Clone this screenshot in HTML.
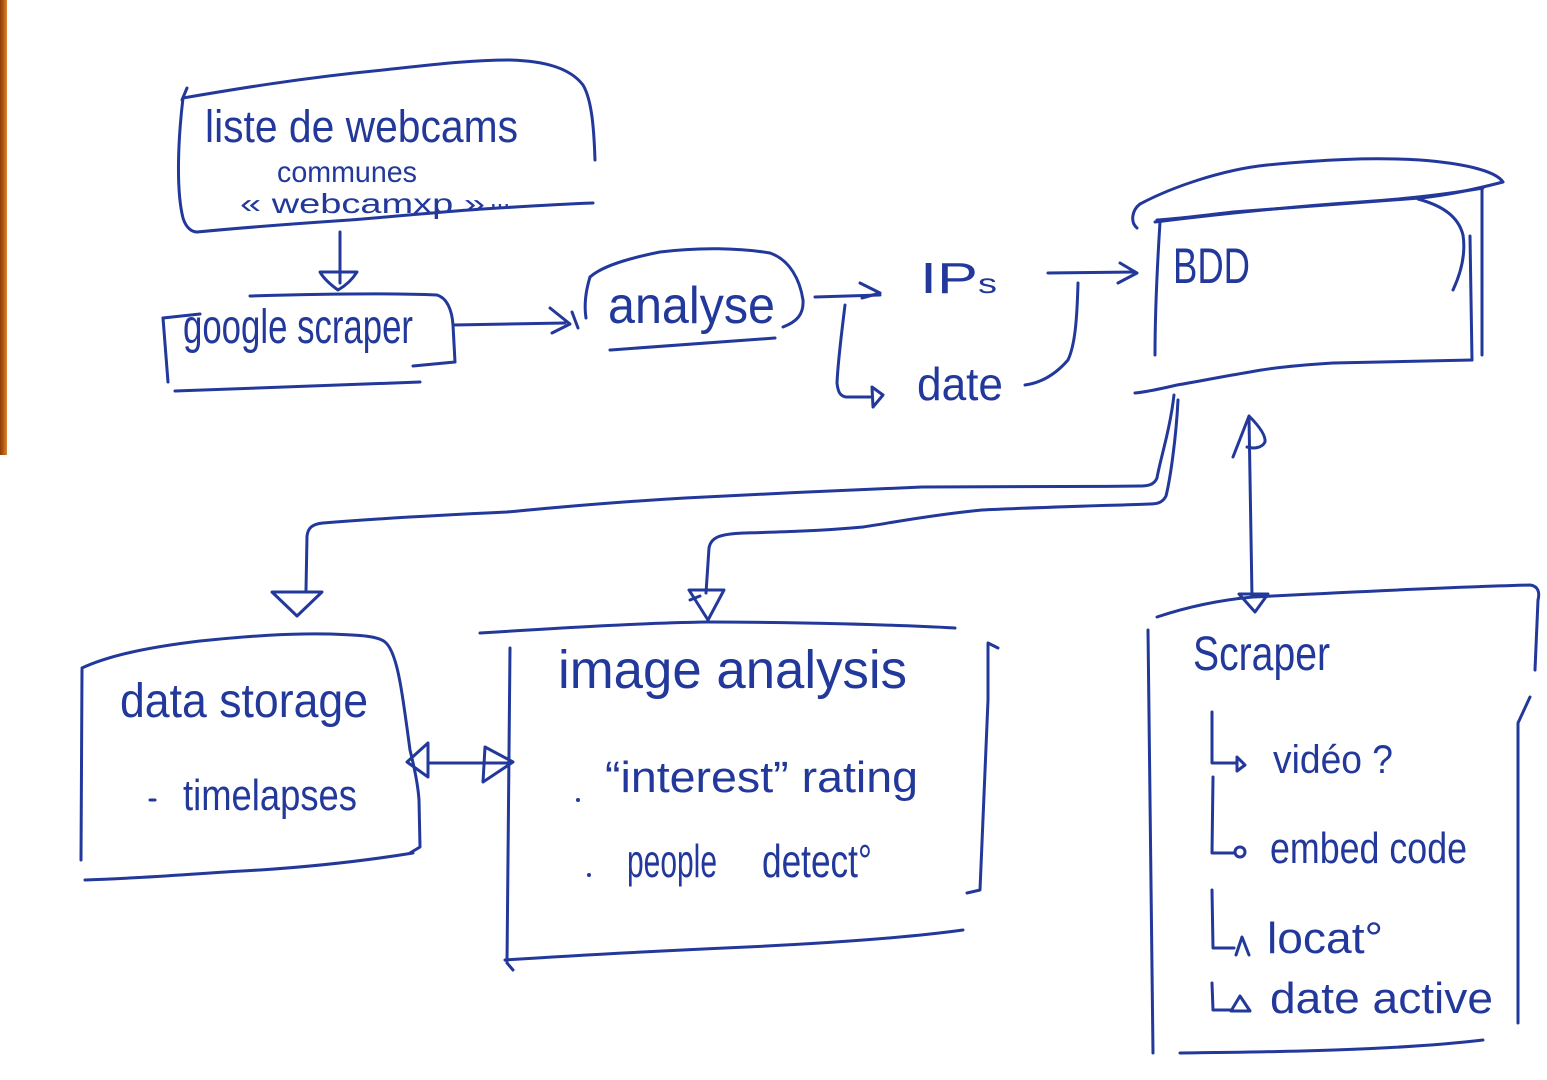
<!DOCTYPE html>
<html>
<head>
<meta charset="utf-8">
<style>
  html,body{margin:0;padding:0;background:#ffffff;}
  body{width:1547px;height:1080px;overflow:hidden;position:relative;}
  svg{position:absolute;left:0;top:0;}
  .s{fill:none;stroke:#22389a;stroke-width:3;stroke-linecap:round;stroke-linejoin:round;}
  .t{fill:#22389a;font-family:"Liberation Sans","DejaVu Sans",sans-serif;}
</style>
</head>
<body>
<svg width="1547" height="1080" viewBox="0 0 1547 1080" xmlns="http://www.w3.org/2000/svg">
  <defs>
    <linearGradient id="wood" x1="0" x2="1" y1="0" y2="0">
      <stop offset="0" stop-color="#8a3c08"/>
      <stop offset="0.6" stop-color="#c0620f"/>
      <stop offset="1" stop-color="#d98a3a"/>
    </linearGradient>
  </defs>
  <rect x="0" y="0" width="7" height="455" fill="url(#wood)"/>

  <!-- ============ Top box: liste de webcams ============ -->
  <path class="s" d="M187,88 L182,100"/>
  <path class="s" d="M183,98 C178,140 176,190 183,218 C186,228 192,232 197,232"/>
  <path class="s" d="M183,98 C230,90 300,78 383,70 C430,65 470,60 510,60 C545,61 570,68 583,85 C592,100 594,130 595,160"/>
  <path class="s" d="M197,232 C260,226 320,222 350,220 C400,216 450,211 483,209 C530,206 565,204 593,203"/>
  <text class="t" x="205" y="142" font-size="45" textLength="313" lengthAdjust="spacingAndGlyphs">liste de webcams</text>
  <text class="t" x="277" y="182" font-size="30" textLength="140" lengthAdjust="spacingAndGlyphs">communes</text>
  <text class="t" x="240" y="213" font-size="28" textLength="245" lengthAdjust="spacingAndGlyphs">« webcamxp »</text>
  <text class="t" x="490" y="207" font-size="28" textLength="20" lengthAdjust="spacingAndGlyphs">...</text>

  <!-- arrow down -->
  <path class="s" d="M340,232 L340,283"/>
  <path class="s" d="M320,272 L357,272 C352,280 345,286 338,290 C331,285 324,279 320,272 Z" fill="#fff"/>

  <!-- ============ google scraper ============ -->
  <path class="s" d="M163,318 L168,382"/>
  <path class="s" d="M163,318 L200,314"/>
  <path class="s" d="M250,296 C320,294 390,293 437,295 C447,298 452,310 453,325 L455,362 L413,366"/>
  <path class="s" d="M175,391 C250,388 350,385 420,382"/>
  <text class="t" x="183" y="343" font-size="48" textLength="230" lengthAdjust="spacingAndGlyphs">google scraper</text>

  <!-- arrow to analyse -->
  <path class="s" d="M453,325 L565,323"/>
  <path class="s" d="M550,308 L570,324 L552,333"/>
  <path class="s" d="M572,312 L578,328"/>

  <!-- ============ analyse ============ -->
  <path class="s" d="M590,277 C586,290 584,305 586,318"/>
  <path class="s" d="M590,277 C600,268 620,260 660,252 C700,247 740,248 770,253 C790,260 800,280 803,300 C804,315 796,322 783,327"/>
  <path class="s" d="M610,350 C670,346 730,341 775,338"/>
  <text class="t" x="608" y="323" font-size="52" textLength="167" lengthAdjust="spacingAndGlyphs">analyse</text>

  <!-- arrow to IPs -->
  <path class="s" d="M815,297 L880,295"/>
  <path class="s" d="M860,283 L880,293 L862,298"/>
  <!-- branch to date -->
  <path class="s" d="M845,305 C842,330 838,360 837,383 C838,392 840,396 846,397 L870,397"/>
  <path class="s" d="M872,387 L883,395 L873,407 Z"/>

  <text class="t" x="920" y="293" font-size="44" textLength="58" lengthAdjust="spacingAndGlyphs">IP</text>
  <text class="t" x="978" y="293" font-size="28" textLength="19" lengthAdjust="spacingAndGlyphs">s</text>
  <text class="t" x="917" y="400" font-size="46" textLength="86" lengthAdjust="spacingAndGlyphs">date</text>

  <!-- date to BDD -->
  <path class="s" d="M1025,385 C1040,383 1055,375 1068,360 C1075,345 1077,320 1078,283"/>
  <path class="s" d="M1048,273 L1135,272"/>
  <path class="s" d="M1120,263 L1137,273 L1118,283"/>

  <!-- ============ BDD cylinder ============ -->
  <path class="s" d="M1137,228 C1130,222 1132,210 1140,204 C1170,188 1220,170 1267,165 C1320,160 1370,157 1420,160 C1460,163 1495,170 1503,182 C1480,188 1450,195 1420,198 C1360,203 1300,207 1233,212 C1200,216 1175,219 1157,220"/>
  <path class="s" d="M1155,222 C1220,214 1300,206 1360,202 C1420,198 1460,192 1483,188"/>
  <path class="s" d="M1418,199 C1440,205 1458,215 1463,235 C1466,255 1460,275 1453,290"/>
  <path class="s" d="M1482,190 L1482,355"/>
  <path class="s" d="M1470,236 L1472,360"/>
  <path class="s" d="M1160,222 C1157,270 1155,320 1155,355"/>
  <path class="s" d="M1472,360 C1420,361 1370,362 1333,363 C1300,365 1270,368 1250,372 C1220,377 1195,382 1177,385 C1160,389 1145,392 1135,393"/>
  <text class="t" x="1173" y="283" font-size="50" textLength="77" lengthAdjust="spacingAndGlyphs">BDD</text>

  <!-- BDD to data storage (line A) -->
  <path class="s" d="M1174,395 C1170,430 1160,460 1157,478 C1154,485 1148,486 1140,486 C1050,487 950,487 922,487 C850,490 760,494 685,498 C600,503 550,508 507,512 C420,516 360,520 323,523 C312,524 308,528 307,536 L306,590"/>
  <path class="s" d="M272,592 L322,592 L297,616 Z" fill="#fff"/>
  <!-- BDD to image analysis (line B) -->
  <path class="s" d="M1178,400 C1176,440 1170,480 1166,496 C1163,502 1158,504 1150,504 C1090,506 1020,508 982,510 C930,515 890,523 863,527 C820,531 780,532 744,533 C720,534 711,537 709,548 L706,593"/>
  <path class="s" d="M689,590 L724,590 L708,620 Z" fill="#fff"/>
  <path class="s" d="M690,600 L700,596"/>

  <!-- BDD <-> Scraper -->
  <path class="s" d="M1249,417 L1252,597"/>
  <path class="s" d="M1249,416 L1233,457 M1249,416 C1258,425 1266,435 1265,442 C1262,448 1254,449 1247,447"/>
  <path class="s" d="M1239,594 L1268,594 L1255,612 Z" fill="#fff"/>

  <!-- ============ data storage ============ -->
  <path class="s" d="M82,668 C110,655 150,647 200,641 C250,636 290,633 330,634 C360,635 378,636 385,642 C395,650 400,680 403,700 C406,720 408,735 410,750 C415,770 418,785 419,800 L420,847 L410,853"/>
  <path class="s" d="M82,670 L81,860"/>
  <path class="s" d="M85,880 C150,878 200,873 260,870 C320,866 370,860 413,853"/>
  <text class="t" x="120" y="717" font-size="48" textLength="248" lengthAdjust="spacingAndGlyphs">data storage</text>
  <path class="s" d="M150,800 L155,800"/>
  <text class="t" x="183" y="810" font-size="44" textLength="174" lengthAdjust="spacingAndGlyphs">timelapses</text>

  <!-- bidirectional arrow -->
  <path class="s" d="M428,763 L510,763"/>
  <path class="s" d="M407,762 L428,743 L428,777 Z"/>
  <path class="s" d="M485,747 L513,762 L483,782 Z"/>

  <!-- ============ image analysis ============ -->
  <path class="s" d="M480,633 C560,628 640,623 707,622 C800,622 900,625 955,628"/>
  <path class="s" d="M510,648 L507,963 L513,970"/>
  <path class="s" d="M505,960 C580,955 680,950 747,947 C850,942 920,936 963,930"/>
  <path class="s" d="M998,648 L988,643 L988,700 L980,890 L967,893"/>
  <text class="t" x="558" y="688" font-size="54" textLength="349" lengthAdjust="spacingAndGlyphs">image analysis</text>
  <circle cx="578" cy="800" r="2" fill="#22389a"/>
  <text class="t" x="605" y="792" font-size="44" textLength="313" lengthAdjust="spacingAndGlyphs">“interest” rating</text>
  <circle cx="589" cy="875" r="2" fill="#22389a"/>
  <text class="t" x="627" y="877" font-size="46" textLength="90" lengthAdjust="spacingAndGlyphs">people</text>
  <text class="t" x="762" y="877" font-size="46" textLength="110" lengthAdjust="spacingAndGlyphs">detect°</text>

  <!-- ============ Scraper ============ -->
  <path class="s" d="M1157,617 C1190,606 1220,600 1253,597 C1350,592 1450,587 1530,585 C1538,586 1540,592 1538,600 L1535,670"/>
  <path class="s" d="M1530,697 L1518,723 L1518,1023"/>
  <path class="s" d="M1148,630 L1153,1053"/>
  <path class="s" d="M1180,1053 C1280,1052 1400,1050 1483,1040"/>
  <text class="t" x="1193" y="670" font-size="48" textLength="137" lengthAdjust="spacingAndGlyphs">Scraper</text>

  <path class="s" d="M1212,712 L1212,763 L1237,763"/>
  <path class="s" d="M1237,757 L1245,765 L1237,771 Z"/>
  <text class="t" x="1273" y="773" font-size="40" textLength="120" lengthAdjust="spacingAndGlyphs">vidéo ?</text>

  <path class="s" d="M1213,777 L1212,853 L1235,853"/>
  <circle class="s" cx="1240" cy="852" r="5"/>
  <text class="t" x="1270" y="863" font-size="44" textLength="197" lengthAdjust="spacingAndGlyphs">embed code</text>

  <path class="s" d="M1212,890 L1213,948 L1234,948"/>
  <path class="s" d="M1236,955 L1242,937 L1249,955"/>
  <text class="t" x="1267" y="953" font-size="44" textLength="116" lengthAdjust="spacingAndGlyphs">locat°</text>

  <path class="s" d="M1212,983 L1213,1010 L1230,1010"/>
  <path class="s" d="M1231,1011 L1240,996 L1250,1011 Z"/>
  <text class="t" x="1270" y="1013" font-size="44" textLength="223" lengthAdjust="spacingAndGlyphs">date active</text>
</svg>
</body>
</html>
